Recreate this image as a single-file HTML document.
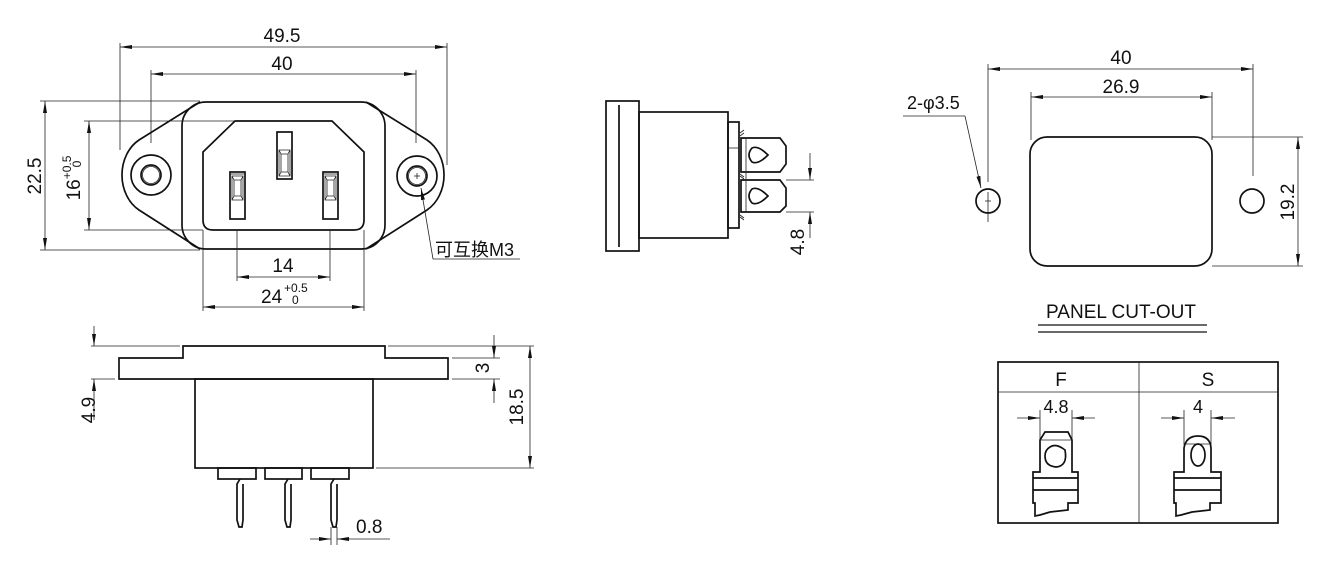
<!DOCTYPE html>
<html><head><meta charset="utf-8"><style>
html,body{margin:0;padding:0;background:#fff}
svg{display:block}
text{font-family:"Liberation Sans","Noto Sans CJK SC",sans-serif;fill:#111}
.o{fill:none;stroke:#111;stroke-width:1.7}
.d{fill:none;stroke:#222;stroke-width:0.8}
.a{fill:#111}
</style></head><body>
<svg width="1332" height="565" viewBox="0 0 1332 565" xmlns="http://www.w3.org/2000/svg">
<defs>
<marker id="ar" viewBox="0 0 12 4" refX="12" refY="2" markerWidth="12" markerHeight="4" markerUnits="userSpaceOnUse" orient="auto-start-reverse"><path d="M0,0 L12,2 L0,4 Z" class="a"/></marker>
</defs>

<line class="d" x1="120" y1="43" x2="120" y2="150"/>
<line class="d" x1="447" y1="43" x2="447" y2="165"/>
<line class="d" x1="120" y1="47" x2="447" y2="47" marker-start="url(#ar)" marker-end="url(#ar)"/>
<text x="282" y="42" font-size="19" text-anchor="middle">49.5</text>
<line class="d" x1="151" y1="70" x2="151" y2="143"/>
<line class="d" x1="416" y1="70" x2="416" y2="143"/>
<line class="d" x1="151" y1="74" x2="416" y2="74" marker-start="url(#ar)" marker-end="url(#ar)"/>
<text x="282" y="70" font-size="19" text-anchor="middle">40</text>
<path class="o" d="M200,102 L139,140 A33,40 0 0 0 139,210 L200,249"/>
<path class="o" d="M366,102 L427,140 A33,40 0 0 1 427,210 L366,249"/>
<rect class="o" x="182" y="102" width="203" height="147" rx="24"/>
<circle class="o" cx="151" cy="175" r="20"/>
<circle class="o" cx="151" cy="175" r="10"/>
<circle class="d" cx="151" cy="175" r="8.5"/>
<circle class="o" cx="417" cy="176" r="20"/>
<circle class="o" cx="417" cy="176" r="10"/>
<circle class="d" cx="417" cy="176" r="8.5"/>
<line class="d" x1="414" y1="176" x2="420" y2="176"/><line class="d" x1="417" y1="173" x2="417" y2="179"/>
<path class="o" d="M235,121 L332,121 L364,152 L364,220 Q364,230 354,230 L213,230 Q203,230 203,220 L203,152 Z"/>
<g class="o">
<rect x="277" y="132" width="15" height="47"/>
<rect x="230" y="172" width="15" height="47"/>
<rect x="323" y="172" width="15" height="47"/>
</g>
<g class="d">
<path d="M279,150 L290,150 L290,176 L279,176 Z M281,154 L288,154 L288,172 L281,172 Z M279,150 L281,154 M290,150 L288,154 M279,176 L281,172 M290,176 L288,172"/>
<path d="M232,176 L243,176 L243,200 L232,200 Z M234,180 L241,180 L241,196 L234,196 Z M232,176 L234,180 M243,176 L241,180 M232,200 L234,196 M243,200 L241,196"/>
<path d="M325,176 L336,176 L336,200 L325,200 Z M327,180 L334,180 L334,196 L327,196 Z M325,176 L327,180 M336,176 L334,180 M325,200 L327,196 M336,200 L334,196"/>
<line x1="230" y1="174" x2="245" y2="174"/><line x1="323" y1="174" x2="338" y2="174"/>
</g>
<line class="d" x1="40" y1="101" x2="200" y2="101"/>
<line class="d" x1="40" y1="250" x2="200" y2="250"/>
<line class="d" x1="45" y1="101" x2="45" y2="250" marker-start="url(#ar)" marker-end="url(#ar)"/>
<text transform="translate(41,176) rotate(-90)" font-size="19" text-anchor="middle">22.5</text>
<line class="d" x1="84" y1="121" x2="235" y2="121"/>
<line class="d" x1="84" y1="230" x2="203" y2="230"/>
<line class="d" x1="89" y1="121" x2="89" y2="230" marker-start="url(#ar)" marker-end="url(#ar)"/>
<text transform="translate(80,178) rotate(-90)" font-size="19" text-anchor="middle">16<tspan font-size="12" dy="-9">+0.5</tspan></text>
<text transform="translate(81,164) rotate(-90)" font-size="12" text-anchor="middle">0</text>
<line class="d" x1="237" y1="230" x2="237" y2="281"/>
<line class="d" x1="330" y1="230" x2="330" y2="281"/>
<line class="d" x1="237" y1="277" x2="330" y2="277" marker-start="url(#ar)" marker-end="url(#ar)"/>
<text x="283" y="272" font-size="19" text-anchor="middle">14</text>
<line class="d" x1="203" y1="230" x2="203" y2="311"/>
<line class="d" x1="364" y1="230" x2="364" y2="311"/>
<line class="d" x1="203" y1="307" x2="364" y2="307" marker-start="url(#ar)" marker-end="url(#ar)"/>
<text x="261" y="303" font-size="19">24</text>
<text x="284" y="292" font-size="12">+0.5</text>
<text x="292" y="304" font-size="12">0</text>
<line class="d" x1="433" y1="259" x2="421" y2="188" marker-end="url(#ar)"/>
<line class="d" x1="433" y1="259" x2="520" y2="259"/>
<text x="435" y="256" font-size="18">可互换M3</text>

<path class="o" d="M183,346 L385,346 L385,358 L448,358 L448,379 L119,379 L119,358 L183,358 Z"/>
<rect class="o" x="195" y="379" width="178" height="89"/>
<g class="o">
<rect x="218" y="468" width="38" height="11"/>
<rect x="265" y="468" width="37" height="11"/>
<rect x="311" y="468" width="38" height="11"/>
</g>
<g class="o" stroke-width="1.2">
<path d="M240,479 L237,484 L237,520 L239,527 L242,527 L243,520 L243,484"/>
<path d="M288,479 L285,484 L285,520 L287,527 L290,527 L291,520 L291,484"/>
<path d="M334,479 L331,484 L331,520 L333,527 L336,527 L337,520 L337,484"/>
</g>
<line class="d" x1="91" y1="346" x2="180" y2="346"/>
<line class="d" x1="91" y1="379" x2="115" y2="379"/>
<line class="d" x1="94" y1="326" x2="94" y2="346" marker-end="url(#ar)"/>
<line class="d" x1="94" y1="420" x2="94" y2="379" marker-end="url(#ar)"/>
<text transform="translate(95,410) rotate(-90)" font-size="19" text-anchor="middle">4.9</text>
<line class="d" x1="452" y1="358" x2="500" y2="358"/>
<line class="d" x1="452" y1="379" x2="500" y2="379"/>
<line class="d" x1="388" y1="346" x2="534" y2="346"/>
<line class="d" x1="376" y1="468" x2="534" y2="468"/>
<line class="d" x1="494" y1="335" x2="494" y2="358" marker-end="url(#ar)"/>
<line class="d" x1="494" y1="403" x2="494" y2="379" marker-end="url(#ar)"/>
<text transform="translate(489,368) rotate(-90)" font-size="19" text-anchor="middle">3</text>
<line class="d" x1="530" y1="346" x2="530" y2="468" marker-start="url(#ar)" marker-end="url(#ar)"/>
<text transform="translate(523,407) rotate(-90)" font-size="19" text-anchor="middle">18.5</text>
<line class="d" x1="331" y1="527" x2="331" y2="545"/>
<line class="d" x1="337" y1="527" x2="337" y2="545"/>
<line class="d" x1="310" y1="539" x2="331" y2="539" marker-end="url(#ar)"/>
<line class="d" x1="390" y1="539" x2="337" y2="539" marker-end="url(#ar)"/>
<text x="356" y="533" font-size="19">0.8</text>

<rect class="o" x="606" y="101" width="33" height="150"/>
<line class="o" x1="619" y1="105" x2="619" y2="247"/>
<rect class="o" x="639" y="112" width="89" height="126"/>
<rect class="o" x="728" y="122" width="11" height="106"/>
<line class="d" x1="728" y1="148" x2="739" y2="148"/>
<path class="o" d="M741,138 L780,138 L786,146 L786,164 L780,172 L741,172 Z"/>
<path class="o" d="M741,180 L780,180 L786,188 L786,206 L780,212 L741,212 Z"/>
<line class="d" x1="746" y1="138" x2="746" y2="212"/>
<path class="o" d="M752,148 Q758,145 768,155 Q758,165 752,162 Q746,155 752,148 Z"/>
<path class="o" d="M752,189 Q758,186 768,196 Q758,206 752,203 Q746,196 752,189 Z"/>
<path class="d" d="M740,133 L744,130 M740,136 L744,133 M740,174 L744,177 M740,176 L744,179 M740,215 L744,218 M740,217 L744,220"/>
<line class="d" x1="786" y1="180" x2="814" y2="180"/>
<line class="d" x1="786" y1="212" x2="814" y2="212"/>
<line class="d" x1="810" y1="153" x2="810" y2="180" marker-end="url(#ar)"/>
<line class="d" x1="810" y1="238" x2="810" y2="212" marker-end="url(#ar)"/>
<text transform="translate(804,242) rotate(-90)" font-size="19" text-anchor="middle">4.8</text>

<line class="d" x1="988" y1="64" x2="988" y2="182"/>
<line class="d" x1="988" y1="192" x2="988" y2="222"/>
<line class="d" x1="1253" y1="64" x2="1253" y2="176"/>
<line class="d" x1="988" y1="69" x2="1253" y2="69" marker-start="url(#ar)" marker-end="url(#ar)"/>
<text x="1121" y="64" font-size="19" text-anchor="middle">40</text>
<line class="d" x1="1031" y1="92" x2="1031" y2="140"/>
<line class="d" x1="1212" y1="92" x2="1212" y2="140"/>
<line class="d" x1="1031" y1="97" x2="1212" y2="97" marker-start="url(#ar)" marker-end="url(#ar)"/>
<text x="1121" y="93" font-size="19" text-anchor="middle">26.9</text>
<rect class="o" x="1030" y="137" width="182" height="129" rx="17"/>
<line class="d" x1="1212" y1="137" x2="1303" y2="137"/>
<line class="d" x1="1212" y1="266" x2="1303" y2="266"/>
<line class="d" x1="1298" y1="137" x2="1298" y2="266" marker-start="url(#ar)" marker-end="url(#ar)"/>
<text transform="translate(1294,202) rotate(-90)" font-size="19" text-anchor="middle">19.2</text>
<circle class="o" cx="988" cy="201" r="12"/>
<line class="d" x1="985" y1="201" x2="991" y2="201"/>
<circle class="o" cx="1252" cy="201" r="12"/>
<line class="d" x1="903" y1="116" x2="965" y2="116"/>
<line class="d" x1="965" y1="116" x2="981" y2="188" marker-end="url(#ar)"/>
<text x="907" y="109" font-size="18">2-φ3.5</text>
<text x="1121" y="318" font-size="19" text-anchor="middle">PANEL CUT-OUT</text>
<line x1="1038" y1="325" x2="1207" y2="325" stroke="#111" stroke-width="1.3"/>
<line x1="1038" y1="332" x2="1207" y2="332" stroke="#111" stroke-width="1.3"/>

<rect class="o" x="998" y="362" width="280" height="161"/>
<line class="d" x1="998" y1="392" x2="1278" y2="392"/>
<line class="d" x1="1139" y1="362" x2="1139" y2="523"/>
<text x="1061" y="386" font-size="19" text-anchor="middle">F</text>
<text x="1208" y="386" font-size="19" text-anchor="middle">S</text>
<line class="d" x1="1040" y1="410" x2="1040" y2="440"/>
<line class="d" x1="1072" y1="410" x2="1072" y2="440"/>
<line class="d" x1="1017" y1="418" x2="1040" y2="418" marker-end="url(#ar)"/>
<line class="d" x1="1095" y1="418" x2="1072" y2="418" marker-end="url(#ar)"/>
<text x="1056" y="413" font-size="18" text-anchor="middle">4.8</text>
<path class="o" d="M1040,472 L1040,440 L1045,432 L1068,432 L1072,440 L1072,472 L1078,472 L1078,503 L1068,503 L1068,510 L1050,512 L1040,515 L1035,516 L1035,503 L1033,503 L1033,472 Z"/>
<line class="d" x1="1040" y1="440" x2="1072" y2="440"/>
<line class="o" x1="1033" y1="478" x2="1078" y2="478"/>
<line class="o" x1="1033" y1="490" x2="1078" y2="490"/>
<path class="o" d="M1050,447 Q1056,443 1065,450 Q1068,466 1056,467 Q1045,466 1045,456 Q1045,450 1050,447 Z"/>
<line class="d" x1="1184" y1="410" x2="1184" y2="445"/>
<line class="d" x1="1211" y1="410" x2="1211" y2="445"/>
<line class="d" x1="1161" y1="418" x2="1184" y2="418" marker-end="url(#ar)"/>
<line class="d" x1="1235" y1="418" x2="1211" y2="418" marker-end="url(#ar)"/>
<text x="1198" y="413" font-size="18" text-anchor="middle">4</text>
<path class="o" d="M1184,472 L1184,448 Q1186,436 1198,436 Q1210,436 1211,448 L1211,472 L1221,472 L1221,503 L1210,503 L1210,510 L1192,512 L1181,515 L1176,516 L1176,503 L1174,503 L1174,472 Z"/>
<line class="d" x1="1186" y1="444" x2="1209" y2="444"/>
<line class="o" x1="1174" y1="478" x2="1221" y2="478"/>
<line class="o" x1="1174" y1="490" x2="1221" y2="490"/>
<ellipse class="o" cx="1198" cy="455" rx="7" ry="11"/>
</svg>
</body></html>
